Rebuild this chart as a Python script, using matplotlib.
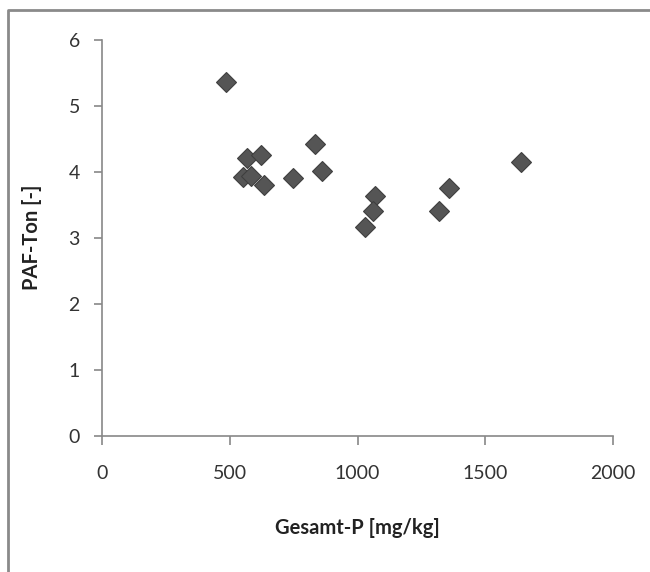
import matplotlib.pyplot as plt
from matplotlib.lines import Line2D

# Gesamt-P [mg/kg] und PAF-Ton [-]
gesamt_p = [487, 566, 622, 833, 550, 585, 635, 746, 860, 1070, 1060, 1029, 1360, 1321, 1641]
paf_ton = [5.37, 4.21, 4.26, 4.42, 3.92, 3.94, 3.80, 3.90, 4.02, 3.64, 3.41, 3.16, 3.75, 3.41, 4.15]

x_ticks = [0, 500, 1000, 1500, 2000]
y_ticks = [0, 1, 2, 3, 4, 5, 6]

plt.rcParams["font.family"] = ["Lato", "DejaVu Sans"]

fig = plt.figure(figsize=(6.5, 5.72), dpi=100)
ax = fig.add_axes([0.157, 0.2386, 0.786, 0.6914])

ax.plot(gesamt_p, paf_ton, linestyle="none", marker="D", markersize=10,
        markerfacecolor="#555555", markeredgecolor="#3f3f3f", markeredgewidth=0.8)

ax.set_xlim(0, 2000)
ax.set_ylim(0, 6)
ax.set_xticks(x_ticks)
ax.set_yticks(y_ticks)
ax.tick_params(axis="both", colors="#888888", labelcolor="#333333", labelsize=14,
               direction="out", width=1.2)
ax.tick_params(axis="x", length=6.5, pad=15)
ax.tick_params(axis="y", length=6, pad=10)

for side in ["top", "right"]:
    ax.spines[side].set_visible(False)
for side in ["left", "bottom"]:
    ax.spines[side].set_color("#888888")
    ax.spines[side].set_linewidth(1.2)

ax.set_xlabel("Gesamt-P [mg/kg]", fontsize=14.5, fontweight="bold", color="#222222", labelpad=26)
ax.set_ylabel("PAF-Ton [-]", fontsize=14.5, fontweight="bold", color="#222222", labelpad=19)

# Rahmen links und oben
fx = 8 / 650
fy = 1 - 10 / 572
fig.add_artist(Line2D([fx, fx, 1], [0, fy, fy], transform=fig.transFigure,
                      color="#8a8a8a", linewidth=2))

fig.savefig("out.png", dpi=100)
